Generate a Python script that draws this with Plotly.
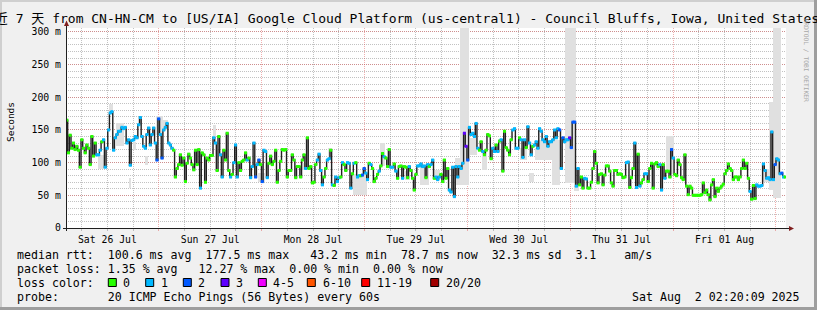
import pandas as pd
import plotly.graph_objects as go

# ---------------- data ----------------
start = pd.Timestamp("2025-07-26 02:20:09")
end = pd.Timestamp("2025-08-02 02:20:09")

# median RTT (ms), read left to right in three parts
median_a = [165,115,142,122,130,120,125,119,93,135,122,115,127,122,97,140,110,130,112,112,
            119,132,135,93,122,150,176,178,119,138,143,148,148,154,152,154,130,135,96,134,
            135,140,138,158,169,140,125,122,143,153,127,143,153,130,104,167,143,107,150,154,
            160,130,127,122,119,78,91,97,112,96,107,71,99,113,107,97,89,119,97,120,
            61,115,112,70,107,104,111,111,138,130,88,140,112,78,119,104,145,88,78,82,
            100,127,78,100,88,102,104,115,104,107,77,94,130,78,97,104,97,71,119,117,
            77,99,110,97,102,119,70,88,102,120,119,120,78,88,88,112,104,77,94,94,
            78,104,112,91]
median_b = [138,91,94,69,70,97,104,113,88,66,78,91,104,106,119,66,65,78,71,77,
            78,100,97,88,100,99,61,83,99,100,78,80,80,81,91,84,74,99,97,91,
            71,76,82,87,95,114,109,107,94,120,93,93,98,87,76,94,95,76,94,93,
            77,94,88,76,58,82,95,95,98,94,95,77,97,94,97,104,76,78,74,78,
            82,71,104,76,91,58,55,93,48,94,78,94,91,99,145,125,104,154,143,145,
            140,160,122,119,132,117,112,119,143,141,106,122,117,127,117,133,135,87,148,123,
            119,112,135,150,152,122,122,138,135,108,135,123,155,130,112,125,127,132,122,152,
            148,135]
median_c = [132,140,125,132,132,135,150,138,152,150,91,138,132,135,135,138,123,162,162,64,
            91,66,78,61,76,75,61,61,70,91,117,99,69,82,83,66,81,95,95,87,
            69,64,88,88,82,83,82,77,78,100,101,62,77,91,130,62,113,64,69,74,
            83,83,71,91,99,61,98,100,94,97,58,97,76,87,87,78,120,107,82,80,
            104,97,77,74,112,64,51,64,61,50,50,50,50,50,51,69,54,58,51,43,
            66,74,48,61,56,61,64,67,83,88,98,91,88,74,78,78,74,78,91,104,
            91,99,76,56,44,65,45,66,64,64,65,98,88,76,77,74,147,74,97,106,
            104,83,84,78,78]

# lost pings per sample (loss-colour class index)
loss_a = ("000000000000000000" "11101111111" "11111111" "1111111111" "1111111221"
          "2111111000" "0000000000" "0001000000" "0110011000" "0101110000"
          "0101112120" "2111000000" "0000000000" "0000001")
loss_b = ("0000001111" "0011010111" "0100111010" "1102211010" "0001001000"
          "1101000100" "0100001111" "1010110111" "0000011111" "1111332111"
          "1110010000" "0110101000" "0001111011" "1011101111" "11")
loss_c = ("1111111112" "1211132221" "1000110000" "0000000000" "0000000001"
          "1000110100" "1100000001" "1010002100" "0000000000" "0000000000"
          "0000000000" "0000000000" "0001000111" "1111111121" "11210")

# smoke spans: (first sample, last sample, low ms, high ms)
smoke = [(19,22,90,112),(26,27,176,190),(30,34,125,160),(38,38,61,77),(40,41,119,132),
         (47,48,97,110),(54,57,143,171),(58,60,150,165),(88,89,138,158),(115,118,71,84),
         (141,143,88,100),(157,158,104,122),(172,179,50,83),(188,190,95,130),(203,205,74,87),
         (212,216,66,94),(220,223,74,88),(233,237,66,107),(236,240,66,306),(242,245,112,138),
         (249,251,88,119),(272,275,104,122),(277,279,71,84),(281,283,104,122),(283,295,104,135),
         (291,295,66,104),(299,304,69,306),(304,306,56,64),(359,363,82,141),(417,420,70,90),
         (421,422,58,193),(423,427,46,306)]

loss_labels = ["0","1","2","3","4-5","6-10","11-19","20/20"]
loss_colors = ["#26ff00","#00b8ff","#0059ff","#5e00ff","#f000ff","#ff5500","#ff0000","#a10000"]

y_ticks = [0,50,100,150,200,250,300]
y_ticktext = ["0","50 m","100 m","150 m","200 m","250 m","300 m"]

title_text = "最近 7 天 from CN-HN-CM to [US/IA] Google Cloud Platform (us-central1) - Council Bluffs, Iowa, United States"
row1 = "median rtt:  100.6 ms avg  177.5 ms max   43.2 ms min  78.7 ms now  32.3 ms sd  3.1    am/s"
row2 = "packet loss: 1.35 % avg   12.27 % max  0.00 % min  0.00 % now"
row3 = "loss color:"
row4 = "probe:       20 ICMP Echo Pings (56 Bytes) every 60s"
stamp = "Sat Aug  2 02:20:09 2025"
watermark = "RRDTOOL / TOBI OETIKER"

# ---------------- build ----------------
median = median_a + median_b + median_c
loss = (loss_a + loss_b + loss_c).ljust(len(median), "0")[:len(median)]
n = len(median)
edges = pd.date_range(start, end, periods=n + 1)
step = edges[1] - edges[0]
mids = edges[:-1] + step / 2

W, H = 817, 310
L, R, T, B = 66, 786, 28, 228
def px(x):
    return (x - L) / (R - L)
def py(y):
    return (B - y) / (B - T)

MONO = "DejaVu Sans Mono, Noto Sans CJK SC"
fig = go.Figure()

# smoke
sx, sy, sb, sw = [], [], [], []
for i0, i1, lo, hi in smoke:
    a, b = edges[i0], edges[min(i1 + 1, n)]
    sx.append(a + (b - a) / 2)
    sw.append((b - a).total_seconds() * 1000)
    sb.append(lo)
    sy.append(hi - lo)
fig.add_trace(go.Bar(x=sx, y=sy, base=sb, width=sw, marker=dict(color="#e0e0e0", line=dict(width=0)),
                     hoverinfo="skip"))

# median step line
fig.add_trace(go.Scatter(x=list(edges), y=median + [median[-1]], mode="lines",
                         line=dict(shape="hv", color="#202020", width=1.4), hoverinfo="skip"))
# loss coloured dashes
fig.add_trace(go.Scatter(x=list(mids), y=median, mode="markers",
                         marker=dict(symbol="square", size=3, color=[loss_colors[int(c)] for c in loss],
                                     line=dict(width=0)), hoverinfo="skip"))

major = "rgba(222,79,79,0.45)"
minor = "rgba(143,143,143,0.55)"
fig.update_layout(
    width=W, height=H, margin=dict(l=L, r=W - R, t=T, b=H - B),
    paper_bgcolor="#f0f0f0", plot_bgcolor="#ffffff", showlegend=False,
    barmode="overlay", bargap=0, font=dict(family=MONO, size=10, color="#000"),
    title=dict(text=title_text.replace(" ", "\u00a0"), xref="container", yref="container",
               x=400.5 / W, xanchor="center", y=1 - 18 / H, yanchor="middle",
               font=dict(family=MONO, size=13, color="#000")),
)
fig.update_xaxes(type="date", range=[start, end], tick0="2025-07-26 00:00:00", dtick=86400000,
                 ticklabelmode="period", tickformat="%a %d %b", showgrid=True, gridcolor=major,
                 griddash="1px,1px", gridwidth=1, ticks="outside", ticklen=2, tickcolor=major,
                 minor=dict(dtick=21600000, showgrid=True, gridcolor=minor, griddash="1px,1px",
                            ticks="outside", ticklen=2, tickcolor=minor),
                 showline=False, zeroline=False, tickfont=dict(family=MONO, size=9.8, color="#000"),
                 fixedrange=True)
fig.update_yaxes(range=[0, 306], tickmode="array", tickvals=y_ticks, ticktext=y_ticktext,
                 showgrid=True, gridcolor=major, griddash="1px,1px", gridwidth=1,
                 minor=dict(tickmode="linear", tick0=0, dtick=10, showgrid=True, gridcolor=minor,
                            griddash="1px,1px"),
                 zeroline=False, showline=False, ticks="", ticklabelstandoff=4,
                 tickfont=dict(family=MONO, size=9.8, color="#000"), fixedrange=True)

shapes = []
# frame shading
shapes.append(dict(type="rect", xref="paper", yref="paper", x0=px(0), x1=px(W), y0=py(0), y1=py(2),
                   fillcolor="#cfcfcf", line=dict(width=0), layer="below"))
shapes.append(dict(type="rect", xref="paper", yref="paper", x0=px(0), x1=px(2), y0=py(0), y1=py(H),
                   fillcolor="#cfcfcf", line=dict(width=0), layer="below"))
shapes.append(dict(type="rect", xref="paper", yref="paper", x0=px(W - 3), x1=px(W), y0=py(0), y1=py(H),
                   fillcolor="#9e9e9e", line=dict(width=0), layer="below"))
shapes.append(dict(type="rect", xref="paper", yref="paper", x0=px(0), x1=px(W), y0=py(H - 3), y1=py(H),
                   fillcolor="#9e9e9e", line=dict(width=0), layer="below"))
# axes with arrows
shapes.append(dict(type="line", xref="paper", yref="paper", x0=px(66.5), x1=px(66.5), y0=py(231), y1=py(25),
                   line=dict(color="#1f1f1f", width=1)))
shapes.append(dict(type="line", xref="paper", yref="paper", x0=px(63), x1=px(790), y0=py(228.5), y1=py(228.5),
                   line=dict(color="#1f1f1f", width=1)))
def tri(points):
    return "M " + " L ".join(f"{px(a)},{py(b)}" for a, b in points) + " Z"
shapes.append(dict(type="path", xref="paper", yref="paper", path=tri([(64, 26), (69, 26), (66.5, 20.5)]),
                   fillcolor="#801f1f", line=dict(width=0)))
shapes.append(dict(type="path", xref="paper", yref="paper", path=tri([(789, 226), (789, 231), (794, 228.5)]),
                   fillcolor="#801f1f", line=dict(width=0)))

ann = []
def text(x, y, s, size=11.6, anchor="left", color="#000", angle=0, yanchor="middle"):
    ann.append(dict(x=px(x), y=py(y), xref="paper", yref="paper", text=s.replace(" ", "\u00a0"),
                    showarrow=False, xanchor=anchor, yanchor=yanchor, textangle=angle, borderpad=0,
                    font=dict(family=MONO, size=size, color=color)))

text(10.5, 122.5, "Seconds", size=9.5, anchor="center", angle=-90)
text(806.5, 60, watermark, size=6.3, anchor="center", color="#a8a8a8", angle=90)
text(16, 254.5, row1)
text(16, 268.5, row2)
text(16, 282.5, row3)
text(16, 296.5, row4)
text(801, 296.5, stamp, anchor="right")

sq_x = [108.3, 145.7, 183.3, 221.0, 258.3, 307.3, 361.7, 430.7]
lab_x = [121.5, 159.5, 197.0, 234.5, 272.0, 321.5, 375.5, 444.5]
for sx0, lx, lab, col in zip(sq_x, lab_x, loss_labels, loss_colors):
    shapes.append(dict(type="rect", xref="paper", yref="paper", x0=px(sx0), x1=px(sx0 + 8),
                       y0=py(286.5), y1=py(278.5), fillcolor=col, line=dict(color="#000", width=1)))
    text(lx, 282.5, lab)

fig.update_layout(shapes=shapes, annotations=ann)
fig.write_html("out.html", config={"displayModeBar": False, "staticPlot": True})
